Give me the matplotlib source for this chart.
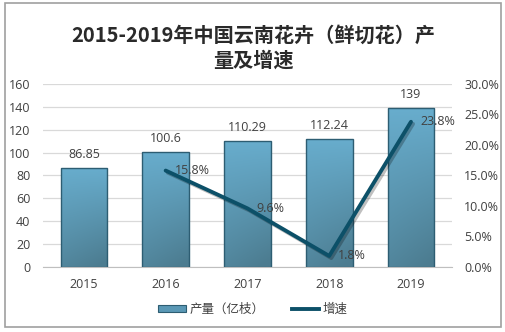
"""2015-2019年中国云南花卉（鲜切花）产量及增速 柱线组合图."""

import matplotlib

matplotlib.use("Agg")

import matplotlib.patheffects as pe
import matplotlib.pyplot as plt
import numpy as np
from matplotlib.lines import Line2D
from matplotlib.patches import Patch, Rectangle
from matplotlib.ticker import FuncFormatter, MultipleLocator

plt.rcParams["font.family"] = ["Noto Sans CJK SC", "DejaVu Sans"]

years = ["2015", "2016", "2017", "2018", "2019"]
output = [86.85, 100.6, 110.29, 112.24, 139]
output_labels = ["86.85", "100.6", "110.29", "112.24", "139"]
growth_years = ["2016", "2017", "2018", "2019"]
growth = [15.8, 9.6, 1.8, 23.8]

TEXT = "#404040"
LINE = "#0c5068"
EDGE = "#2d5d72"

fig = plt.figure(figsize=(5.06, 3.32), dpi=100)

# outer frame
fig.patches.append(Rectangle((5 / 506, 5 / 332), 496 / 506, 324 / 332,
                             transform=fig.transFigure, fill=False,
                             edgecolor="#a0a0a0", linewidth=1.2))

fig.text(0.5, 0.893, "2015-2019年中国云南花卉（鲜切花）产", ha="center", va="center",
         fontsize=14.5, fontweight="semibold", color="#2a2a2a")
fig.text(0.5, 0.818, "量及增速", ha="center", va="center",
         fontsize=14.5, fontweight="semibold", color="#2a2a2a")

ax = fig.add_axes([0.085, 0.196, 0.808, 0.551])
ax2 = ax.twinx()

x = np.arange(len(years))
bars = ax.bar(x, output, width=0.57, color="none", edgecolor=EDGE, linewidth=1.0, zorder=3)

# light at the top, darker toward the bottom-right of each bar
top = np.array([0x68, 0xad, 0xcd]) / 255
bottom = np.array([0x4c, 0x7c, 0x90]) / 255
gy = np.linspace(0, 1, 120)[:, None]
gx = np.linspace(0, 1, 60)[None, :]
t = np.clip(gy * 0.8 + gx * gy * 0.25, 0, 1)
grad = top[None, None, :] * (1 - t[..., None]) + bottom[None, None, :] * t[..., None]
for b in bars:
    x0, w, h = b.get_x(), b.get_width(), b.get_height()
    im = ax.imshow(grad, extent=(x0, x0 + w, 0, h), origin="upper",
                   aspect="auto", zorder=2.5, interpolation="bilinear")
    im.set_clip_path(b)

for xi, v, lab in zip(x, output, output_labels):
    ax.text(xi, v + 6, lab, ha="center", va="bottom", fontsize=9,
            color=TEXT, family=["Open Sans", "DejaVu Sans"])

ax.set_xlim(-0.5, 4.5)
ax.set_ylim(0, 160)
ax.yaxis.set_major_locator(MultipleLocator(20))
ax.set_xticks(x)
ax.set_xticklabels(years)
ax.grid(axis="y", color="#d9d9d9", linewidth=0.9, zorder=0)
ax.set_axisbelow(True)
for s in ["top", "left", "right"]:
    ax.spines[s].set_visible(False)
ax.spines["bottom"].set_color("#bfbfbf")
ax.tick_params(axis="both", length=0, labelsize=9, colors=TEXT, pad=8)
ax.tick_params(axis="y", pad=9)

gx_pos = [years.index(y) for y in growth_years]
g = np.array(growth) / 100
ax2.plot(gx_pos, g, color=LINE, linewidth=2.8, solid_capstyle="round", zorder=5,
         path_effects=[pe.SimpleLineShadow(offset=(1.5, -1.5), alpha=0.25),
                       pe.Normal()])
for xi, v in zip(gx_pos, growth):
    ax2.text(xi + 0.11, v / 100, f"{v:.1f}%", ha="left", va="center",
             fontsize=9, color=TEXT, family=["Open Sans", "DejaVu Sans"], zorder=6)

ax2.set_ylim(0, 0.30)
ax2.yaxis.set_major_locator(MultipleLocator(0.05))
ax2.yaxis.set_major_formatter(FuncFormatter(lambda v, _: f"{v * 100:.1f}%"))
for s in ["top", "left", "right", "bottom"]:
    ax2.spines[s].set_visible(False)
ax2.tick_params(axis="y", length=0, labelsize=9, colors=TEXT, pad=9)

for lab in ax.get_xticklabels() + ax.get_yticklabels() + ax2.get_yticklabels():
    lab.set_family(["Open Sans", "DejaVu Sans"])

handles = [Patch(facecolor="#5a98b5", edgecolor=EDGE, linewidth=0.8),
           Line2D([0], [0], color=LINE, linewidth=2.8)]
fig.legend(handles, ["产量（亿枝）", "增速"], loc="center", bbox_to_anchor=(0.5, 0.068),
           ncol=2, frameon=False, fontsize=9, handlelength=2.2, handleheight=0.6,
           columnspacing=2.2, handletextpad=0.3, labelcolor=TEXT)

fig.savefig("out.png", dpi=100)
